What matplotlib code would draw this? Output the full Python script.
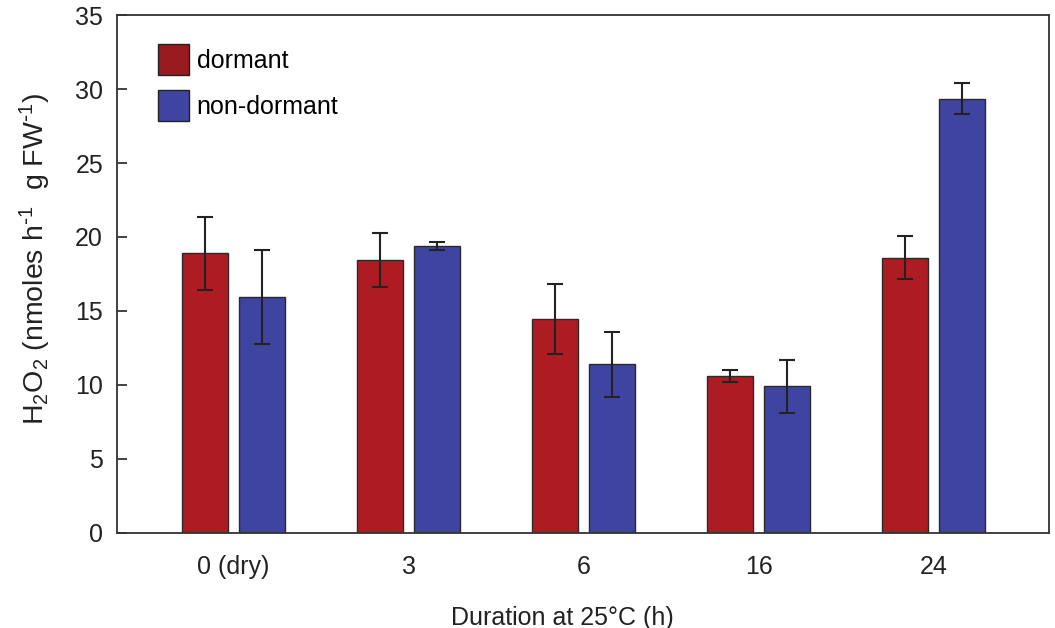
import numpy as np
import matplotlib
matplotlib.use('Agg')
from matplotlib import pyplot as plt
from matplotlib.patches import Patch

plt.rcParams['font.family'] = ['Liberation Sans', 'DejaVu Sans']
plt.rcParams['mathtext.default'] = 'regular'

# data
durations = ['0 (dry)', '3', '6', '16', '24']
dormant = [18.9, 18.45, 14.45, 10.6, 18.6]
dormant_err = [2.45, 1.85, 2.35, 0.4, 1.45]
non_dormant = [15.95, 19.4, 11.4, 9.9, 29.35]
non_dormant_err = [3.15, 0.25, 2.2, 1.8, 1.05]

red = '#ae1c23'
blue = '#3f44a0'

fig = plt.figure(figsize=(10.55, 6.28), dpi=100)
ax = fig.add_axes([0.1109, 0.1513, 0.8834, 0.8248])

x = np.arange(len(durations))
w = 0.266
off = 0.163

ax.bar(x - off, dormant, w, color=red, edgecolor='#2a2a2a', linewidth=1.0,
       yerr=dormant_err, capsize=6, error_kw=dict(ecolor='#222222', elinewidth=1.5, capthick=1.5))
ax.bar(x + off, non_dormant, w, color=blue, edgecolor='#2a2a2a', linewidth=1.0,
       yerr=non_dormant_err, capsize=6, error_kw=dict(ecolor='#222222', elinewidth=1.5, capthick=1.5))

ax.set_xlim(-0.666, 4.66)
ax.set_ylim(0, 35)
ax.set_yticks(range(0, 36, 5))
ax.set_xticks(x)
ax.set_xticklabels(durations)

ax.tick_params(axis='y', direction='in', length=7, width=1.2, pad=10, labelsize=18, colors='#222222')
ax.tick_params(axis='x', length=0, pad=16, labelsize=18, colors='#222222')

for s in ax.spines.values():
    s.set_linewidth(1.3)
    s.set_color('#333333')

ax.set_ylabel(r'H$_2$O$_2$ (nmoles h$^{\text{-}1}$  g FW$^{\text{-}1}$)', fontsize=20.5, color='#222222')
ax.yaxis.set_label_coords(-0.069, 0.529)
ax.set_xlabel('Duration at 25°C (h)', fontsize=18, color='#222222')
ax.xaxis.set_label_coords(0.478, -0.14)

handles = [Patch(facecolor='#981b20', edgecolor='#222222', label='dormant'),
           Patch(facecolor=blue, edgecolor='#222222', label='non-dormant')]
ax.legend(handles=handles, loc='upper left', bbox_to_anchor=(0.044, 0.944),
          frameon=False, fontsize=18, handlelength=1.25, handleheight=1.5,
          labelspacing=0.62, handletextpad=0.3, borderpad=0, borderaxespad=0)

fig.savefig('out.png', dpi=100)
